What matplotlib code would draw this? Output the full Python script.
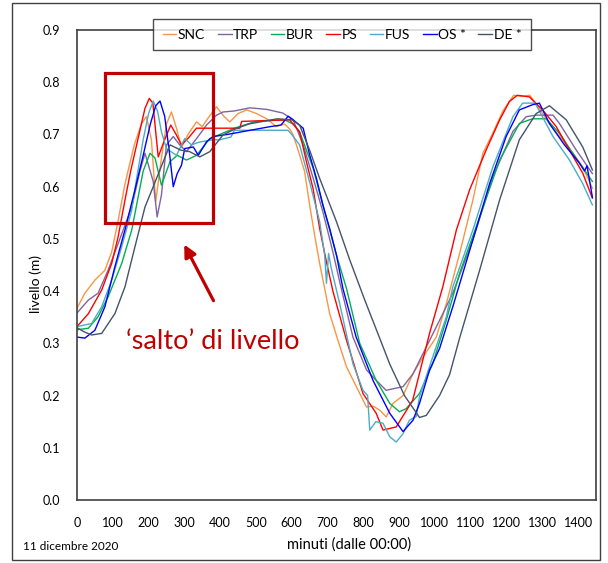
import matplotlib
matplotlib.use('Agg')
import matplotlib.pyplot as plt
from matplotlib.patches import Rectangle

plt.rcParams['font.family'] = ['Lato', 'DejaVu Sans']

# Dati (minuti, livello in m)
snc_t = [0, 22, 50, 78, 97, 115, 134, 160, 180, 194, 208, 220, 235, 250, 264, 278, 292, 310, 334, 350,
         370, 390, 410, 427, 450, 474, 502, 530, 557, 580, 595, 604, 622, 636, 650, 664, 678, 706, 729, 753,
         790, 809, 827, 846, 864, 883, 911, 939, 967, 1004, 1032, 1069, 1106, 1134, 1160, 1190, 1220, 1245,
         1265, 1290, 1320, 1357, 1385, 1413, 1440]
snc_y = [0.367, 0.396, 0.421, 0.44, 0.475, 0.535, 0.605, 0.68, 0.72, 0.734, 0.69, 0.571, 0.65, 0.72, 0.743,
         0.712, 0.675, 0.70, 0.724, 0.715, 0.735, 0.753, 0.735, 0.724, 0.74, 0.747, 0.74, 0.73, 0.715, 0.72,
         0.71, 0.699, 0.661, 0.629, 0.565, 0.507, 0.453, 0.357, 0.306, 0.255, 0.204, 0.178, 0.18, 0.172,
         0.159, 0.185, 0.20, 0.242, 0.274, 0.312, 0.376, 0.472, 0.574, 0.664, 0.70, 0.745, 0.775, 0.773,
         0.775, 0.752, 0.72, 0.689, 0.665, 0.638, 0.597]

trp_t = [0, 32, 59, 87, 115, 153, 176, 190, 213, 224, 236, 250, 269, 287, 306, 334, 362, 390, 408, 440,
         483, 530, 575, 604, 632, 660, 687, 715, 734, 771, 809, 836, 864, 883, 911, 939, 976, 1013, 1050,
         1106, 1162, 1218, 1255, 1283, 1330, 1348, 1395, 1440]
trp_y = [0.358, 0.383, 0.396, 0.44, 0.491, 0.561, 0.63, 0.664, 0.61, 0.542, 0.584, 0.68, 0.696, 0.68,
         0.667, 0.692, 0.718, 0.737, 0.743, 0.745, 0.751, 0.748, 0.741, 0.728, 0.68, 0.616, 0.552, 0.475,
         0.418, 0.312, 0.249, 0.229, 0.21, 0.213, 0.217, 0.242, 0.293, 0.344, 0.396, 0.498, 0.619, 0.706,
         0.734, 0.737, 0.737, 0.721, 0.67, 0.625]

bur_t = [0, 32, 59, 87, 125, 153, 185, 204, 218, 236, 260, 280, 306, 334, 371, 399, 440, 500, 580, 604,
         622, 660, 687, 725, 753, 790, 836, 874, 901, 920, 957, 994, 1032, 1069, 1125, 1181, 1236, 1264,
         1273, 1311, 1348, 1404, 1440]
bur_y = [0.326, 0.329, 0.351, 0.389, 0.453, 0.517, 0.63, 0.664, 0.655, 0.603, 0.648, 0.66, 0.651, 0.66,
         0.692, 0.70, 0.712, 0.725, 0.728, 0.72, 0.705, 0.635, 0.565, 0.469, 0.405, 0.30, 0.229, 0.185,
         0.169, 0.175, 0.204, 0.261, 0.345, 0.434, 0.542, 0.651, 0.721, 0.728, 0.73, 0.73, 0.702, 0.645, 0.61]

ps_t = [0, 32, 69, 97, 115, 134, 150, 170, 190, 202, 212, 227, 245, 262, 277, 292, 311, 334, 380, 455,
        460, 594, 622, 641, 660, 678, 697, 715, 753, 799, 836, 855, 892, 938, 985, 1022, 1060, 1097, 1143,
        1181, 1208, 1230, 1264, 1301, 1339, 1376, 1413, 1440]
ps_y = [0.332, 0.357, 0.402, 0.453, 0.504, 0.574, 0.63, 0.69, 0.75, 0.769, 0.76, 0.657, 0.69, 0.718, 0.70,
        0.68, 0.693, 0.712, 0.712, 0.712, 0.725, 0.728, 0.705, 0.648, 0.595, 0.52, 0.456, 0.40, 0.306,
        0.204, 0.166, 0.134, 0.14, 0.191, 0.319, 0.408, 0.517, 0.594, 0.670, 0.728, 0.763, 0.775, 0.772,
        0.747, 0.715, 0.67, 0.626, 0.578]

fus_t = [0, 41, 69, 97, 125, 153, 166, 185, 200, 213, 225, 236, 250, 278, 301, 320, 340, 371, 400, 430,
         440, 590, 600, 622, 650, 678, 692, 697, 703, 710, 734, 771, 799, 812, 818, 835, 855, 874, 892, 911,
         929, 948, 957, 994, 1032, 1050, 1106, 1162, 1218, 1245, 1280, 1330, 1376, 1413, 1440]
fus_y = [0.332, 0.338, 0.37, 0.421, 0.485, 0.555, 0.613, 0.69, 0.74, 0.764, 0.745, 0.705, 0.673, 0.66,
         0.692, 0.68, 0.685, 0.689, 0.69, 0.695, 0.708, 0.708, 0.70, 0.68, 0.609, 0.533, 0.469, 0.415,
         0.472, 0.445, 0.376, 0.261, 0.21, 0.2, 0.134, 0.15, 0.147, 0.121, 0.111, 0.127, 0.153, 0.16, 0.198,
         0.274, 0.351, 0.408, 0.517, 0.638, 0.734, 0.76, 0.76, 0.696, 0.651, 0.606, 0.565]

os_t = [0, 22, 50, 78, 106, 134, 162, 185, 205, 220, 232, 245, 258, 269, 280, 292, 301, 325, 339, 362,
        380, 420, 460, 500, 540, 570, 590, 604, 632, 650, 669, 687, 706, 725, 743, 780, 827, 874, 911, 939,
        957, 985, 1013, 1050, 1106, 1153, 1199, 1236, 1273, 1292, 1320, 1362, 1404, 1418, 1425, 1440]
os_y = [0.312, 0.31, 0.325, 0.37, 0.447, 0.517, 0.594, 0.66, 0.72, 0.755, 0.764, 0.735, 0.667, 0.60, 0.625,
        0.641, 0.673, 0.676, 0.66, 0.686, 0.696, 0.70, 0.705, 0.71, 0.715, 0.718, 0.735, 0.728, 0.712, 0.661,
        0.616, 0.565, 0.52, 0.469, 0.405, 0.312, 0.229, 0.166, 0.131, 0.153, 0.185, 0.249, 0.29, 0.37,
        0.498, 0.606, 0.696, 0.747, 0.757, 0.76, 0.721, 0.68, 0.645, 0.63, 0.64, 0.58]

de_t = [0, 20, 41, 69, 106, 134, 162, 190, 213, 241, 260, 290, 315, 343, 371, 408, 440, 480, 520, 560,
        600, 622, 650, 678, 725, 762, 804, 840, 874, 915, 957, 976, 1013, 1041, 1069, 1125, 1181, 1236,
        1283, 1320, 1367, 1413, 1440]
de_y = [0.33, 0.322, 0.316, 0.319, 0.357, 0.408, 0.485, 0.561, 0.60, 0.648, 0.68, 0.67, 0.667, 0.657,
        0.667, 0.699, 0.71, 0.72, 0.725, 0.73, 0.728, 0.718, 0.67, 0.616, 0.533, 0.46, 0.383, 0.32, 0.26,
        0.2, 0.158, 0.162, 0.2, 0.24, 0.31, 0.44, 0.575, 0.69, 0.74, 0.755, 0.728, 0.676, 0.632]

labels = ['SNC', 'TRP', 'BUR', 'PS', 'FUS', 'OS *', 'DE *']
colors = ['#F79646', '#8064A2', '#00B050', '#FF0000', '#4BACC6', '#0000FF', '#44546A']
series = [(snc_t, snc_y), (trp_t, trp_y), (bur_t, bur_y), (ps_t, ps_y),
          (fus_t, fus_y), (os_t, os_y), (de_t, de_y)]

fig = plt.figure(figsize=(6.08, 5.63), dpi=100)
ax = fig.add_axes([0.1266, 0.1119, 0.8536, 0.8348])

for (t, y), lab, col in zip(series, labels, colors):
    ax.plot(t, y, color=col, lw=1.0, label=lab)

ax.set_xlim(0, 1450)
ax.set_ylim(0, 0.9)
ax.set_xticks(range(0, 1401, 100))
ax.set_yticks([i / 10 for i in range(10)])
ax.set_yticklabels([f'{i / 10:.1f}' for i in range(10)])
ax.tick_params(length=0, labelsize=9, pad=12)
for s in ax.spines.values():
    s.set_color('#404040')
    s.set_linewidth(1.2)

# riquadro e freccia per il 'salto' di livello
red = '#C00000'
ax.add_patch(Rectangle((78, 0.53), 302, 0.287, fill=False, edgecolor=red, lw=2.3, zorder=5))
ax.annotate('', xy=(296, 0.494), xytext=(385, 0.377),
            arrowprops=dict(arrowstyle='-|>', color=red, lw=2.3, mutation_scale=18))
ax.text(138, 0.304, '\u2018salto\u2019 di livello', color=red, fontsize=19.5, ha='left', va='center')

leg = ax.legend(loc='center', bbox_to_anchor=(0.5625, 0.9387), bbox_transform=fig.transFigure,
                ncol=7, fontsize=10, handlelength=1.0, handletextpad=0.1, columnspacing=0.9,
                frameon=True, fancybox=False, borderpad=0.7)
leg.get_frame().set_edgecolor('#202020')
leg.get_frame().set_linewidth(1.0)
leg.set_zorder(10)

fig.text(0.574, 0.032, 'minuti (dalle 00:00)', ha='center', va='center', fontsize=10.5)
fig.text(0.058, 0.4956, 'livello (m)', ha='center', va='center', rotation=90, fontsize=10)
fig.text(0.038, 0.030, '11 dicembre 2020', ha='left', va='center', fontsize=8.5)

# cornice esterna
fig.add_artist(Rectangle((0.0197, 0.0053), 0.9673, 0.9894, transform=fig.transFigure,
                         fill=False, edgecolor='#404040', lw=1.0))

fig.savefig('out.png', dpi=100)
